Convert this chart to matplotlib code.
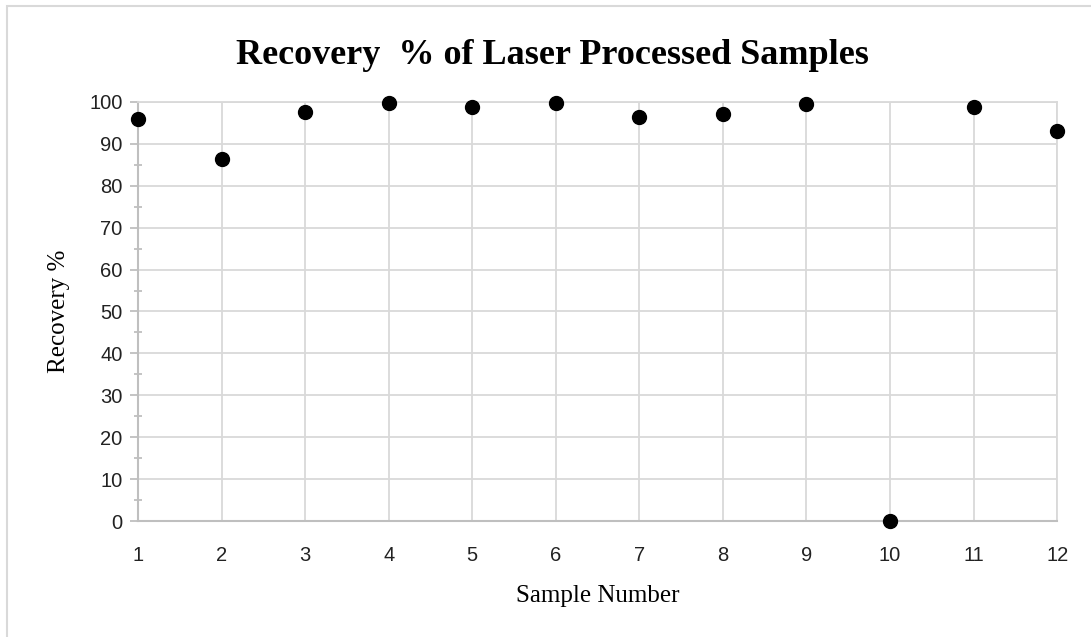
import matplotlib
matplotlib.use("Agg")
import matplotlib.pyplot as plt
from matplotlib.patches import Rectangle

# data
sample_number = [1, 2, 3, 4, 5, 6, 7, 8, 9, 10, 11, 12]
recovery = [96.0, 86.3, 97.5, 99.7, 98.8, 99.7, 96.3, 97.0, 99.4, 0.0, 98.8, 93.0]

fig = plt.figure(figsize=(10.91, 6.37), dpi=100)
ax = fig.add_axes([0.1265, 0.182, 0.8425, 0.658])

ax.scatter(sample_number, recovery, s=100, color="black", zorder=3, clip_on=False)

ax.set_xlim(1, 12)
ax.set_ylim(0, 100)
ax.set_xticks(range(1, 13))
ax.set_yticks(range(0, 101, 10))
ax.set_yticks(range(5, 100, 10), minor=True)

ax.grid(True, color="#d9d9d9", linewidth=1.3)
ax.set_axisbelow(True)
for s in ["top", "right"]:
    ax.spines[s].set_color("#d9d9d9")
    ax.spines[s].set_linewidth(1.3)
ax.spines["left"].set_color("#bfbfbf")
ax.spines["bottom"].set_color("#bfbfbf")
ax.spines["left"].set_linewidth(1.5)
ax.spines["bottom"].set_linewidth(1.5)

ax.tick_params(axis="y", which="major", length=6, color="#bfbfbf", width=1.3, pad=5)
ax.tick_params(axis="y", which="minor", length=6, color="#bfbfbf", width=1.3, direction="inout")
ax.tick_params(axis="x", length=0, pad=18)
for lab in ax.get_xticklabels() + ax.get_yticklabels():
    lab.set_fontfamily("Liberation Sans")
    lab.set_fontsize(14.5)
    lab.set_color("#222222")

ax.set_xlabel("Sample Number", fontfamily="Liberation Serif", fontsize=18, labelpad=14)
ax.set_ylabel("Recovery %", fontfamily="Liberation Serif", fontsize=18, labelpad=14)
fig.text(0.506, 0.913, "Recovery  % of Laser Processed Samples", ha="center", va="center",
         fontfamily="Liberation Serif", fontweight="bold", fontsize=26)

fig.patches.append(Rectangle((0.0065, -0.05), 1.05, 1.0405, transform=fig.transFigure,
                             fill=False, edgecolor="#d9d9d9", linewidth=1.5))

fig.savefig("out.png", dpi=100)
